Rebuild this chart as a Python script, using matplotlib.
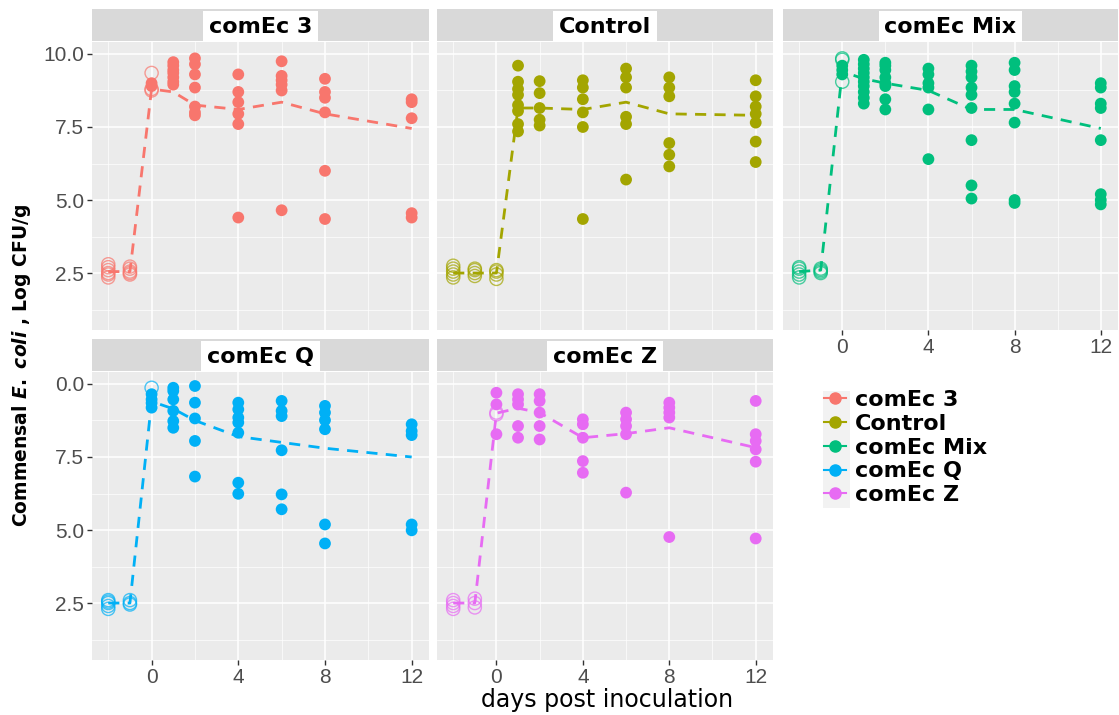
import matplotlib
matplotlib.use('Agg')
import matplotlib.pyplot as plt
from matplotlib.lines import Line2D
from matplotlib.patches import Rectangle

plt.rcParams['mathtext.fontset'] = 'custom'
plt.rcParams['mathtext.it'] = 'DejaVu Sans:italic:bold'
plt.rcParams['mathtext.rm'] = 'DejaVu Sans:bold'
plt.rcParams['mathtext.bf'] = 'DejaVu Sans:bold'

# data
days = [-2, -1, 0, 1, 2, 4, 6, 8, 12]
groups = ['comEc 3', 'Control', 'comEc Mix', 'comEc Q', 'comEc Z']
colors = ['#F8766D', '#A3A500', '#00BF7D', '#00B0F6', '#E76BF3']

c3_open = {-2: [2.35, 2.45, 2.5, 2.6, 2.7, 2.8], -1: [2.45, 2.5, 2.55, 2.65, 2.72], 0: [9.35, 8.8, 8.75]}
c3_filled = {0: [9.0, 8.9], 1: [9.72, 9.6, 9.45, 9.35, 9.2, 9.05, 8.95],
             2: [9.85, 9.65, 9.3, 8.85, 8.2, 8.0, 7.9], 4: [9.3, 8.7, 8.35, 7.95, 7.6, 4.4],
             6: [9.75, 9.25, 9.1, 8.95, 8.75, 4.65], 8: [9.15, 8.7, 8.5, 8.0, 6.0, 4.35],
             12: [8.45, 8.35, 7.8, 4.55, 4.4]}
c3_mean = [2.55, 2.55, 8.8, 8.7, 8.25, 8.1, 8.35, 7.95, 7.45]

ctrl_open = {-2: [2.35, 2.45, 2.55, 2.65, 2.75], -1: [2.4, 2.5, 2.6, 2.65], 0: [2.3, 2.45, 2.55, 2.6]}
ctrl_filled = {1: [9.6, 9.05, 8.8, 8.6, 8.25, 8.05, 7.6, 7.35], 2: [9.07, 8.66, 8.15, 7.75, 7.55],
               4: [9.1, 8.85, 8.45, 8.0, 7.5, 4.35], 6: [9.5, 9.2, 8.85, 7.85, 7.6, 5.7],
               8: [9.2, 8.85, 8.55, 6.95, 6.55, 6.15], 12: [9.1, 8.55, 8.2, 7.95, 7.65, 7.0, 6.3]}
ctrl_mean = [2.5, 2.5, 2.5, 8.15, 8.15, 8.1, 8.35, 7.95, 7.9]

mix_open = {-2: [2.35, 2.45, 2.55, 2.65, 2.7], -1: [2.5, 2.55, 2.6, 2.65], 0: [9.85, 9.8, 9.05]}
mix_filled = {0: [9.6, 9.45, 9.3], 1: [9.8, 9.65, 9.5, 9.35, 9.2, 9.05, 8.9, 8.7, 8.5, 8.3],
              2: [9.7, 9.6, 9.45, 9.2, 9.0, 8.9, 8.45, 8.1], 4: [9.5, 9.3, 9.0, 8.85, 8.1, 6.4],
              6: [9.6, 9.4, 9.2, 8.85, 8.6, 8.15, 7.05, 5.5, 5.05],
              8: [9.7, 9.45, 8.9, 8.7, 8.3, 7.65, 5.0, 4.9],
              12: [9.0, 8.85, 8.3, 8.15, 7.05, 5.2, 5.0, 4.85]}
mix_mean = [2.55, 2.6, 9.4, 9.15, 9.0, 8.75, 8.1, 8.1, 7.45]

q_open = {-2: [2.6, 2.5, 2.4, 2.3, 2.55], -1: [2.6, 2.5, 2.45], 0: [9.87]}
q_filled = {0: [9.65, 9.47, 9.35, 9.19], 1: [9.87, 9.76, 9.47, 9.08, 8.73, 8.5],
            2: [9.93, 9.36, 8.82, 8.05, 6.83], 4: [9.36, 9.13, 8.85, 8.68, 8.33, 6.62, 6.24],
            6: [9.42, 9.08, 8.9, 7.73, 6.22, 5.71], 8: [9.25, 9.02, 8.76, 8.45, 5.19, 4.54],
            12: [8.62, 8.39, 8.25, 5.19, 4.99]}
q_mean = [2.5, 2.5, 9.4, 9.15, 8.75, 8.2, 8.0, 7.8, 7.5]

z_open = {-2: [2.6, 2.5, 2.4, 2.3], -1: [2.65, 2.5, 2.35], 0: [9.02, 8.96]}
z_filled = {0: [9.7, 9.3, 8.28], 1: [9.65, 9.47, 9.3, 8.56, 8.16], 2: [9.65, 9.42, 9.02, 8.56, 8.1],
            4: [8.79, 8.62, 8.16, 7.36, 6.96], 6: [9.02, 8.79, 8.56, 8.28, 6.28],
            8: [9.36, 9.19, 9.02, 8.85, 4.76], 12: [9.42, 8.28, 8.05, 7.76, 7.34, 4.71]}
z_mean = [2.5, 2.5, 9.0, 9.17, 9.02, 8.16, 8.3, 8.5, 7.82]

opens = [c3_open, ctrl_open, mix_open, q_open, z_open]
filleds = [c3_filled, ctrl_filled, mix_filled, q_filled, z_filled]
means = [c3_mean, ctrl_mean, mix_mean, q_mean, z_mean]

y_ticks = [2.5, 5.0, 7.5, 10.0]
y_labels_top = ['2.5', '5.0', '7.5', '10.0']
y_labels_bottom = ['2.5', '5.0', '7.5', '0.0']
x_ticks = [0, 4, 8, 12]

W, H = 1119, 715
fig = plt.figure(figsize=(W / 100, H / 100), dpi=100)


def px_box(x0, y0, x1, y1):
    return [x0 / W, 1 - y1 / H, (x1 - x0) / W, (y1 - y0) / H]


# panel boxes in pixels: (left, top, right, bottom)
panel_px = [(92, 42, 429, 330), (437, 42, 773, 330), (783, 42, 1118, 330),
            (92, 372, 429, 660), (437, 372, 773, 660)]
show_y = [True, False, False, True, False]
show_x = [False, False, True, True, True]

for i, name in enumerate(groups):
    x0, y0, x1, y1 = panel_px[i]
    c = colors[i]
    ax = fig.add_axes(px_box(x0, y0, x1, y1))
    ax.set_facecolor('#EBEBEB')
    for s in ax.spines.values():
        s.set_visible(False)
    ax.set_xlim(-2.75, 12.8)
    ax.set_ylim(0.55, 10.41)
    ax.set_xticks(x_ticks)
    ax.set_xticks([-2, 2, 6, 10], minor=True)
    ax.set_yticks(y_ticks)
    ax.set_yticks([1.25, 3.75, 6.25, 8.75], minor=True)
    ax.set_axisbelow(True)
    ax.grid(which='major', color='white', lw=1.1)
    ax.grid(which='minor', color='white', lw=0.5)
    ax.tick_params(which='major', length=3.5, width=1, color='#333333',
                   labelcolor='#4D4D4D', labelsize=15, pad=2)
    ax.tick_params(which='minor', length=0)
    if show_y[i]:
        ax.set_yticklabels(y_labels_top if i < 3 else y_labels_bottom, family='Liberation Sans')
    else:
        ax.tick_params(axis='y', left=False, labelleft=False)
    if show_x[i]:
        ax.set_xticklabels([str(t) for t in x_ticks], family='Liberation Sans')
    else:
        ax.tick_params(axis='x', bottom=False, labelbottom=False)

    ax.plot(days, means[i], ls=(0, (4, 3)), lw=2.0, color=c, zorder=2)
    for d, vals in opens[i].items():
        ax.scatter([d] * len(vals), vals, s=90, facecolors='none', edgecolors=c,
                   linewidths=1.0, alpha=0.7, zorder=3)
    for d, vals in filleds[i].items():
        ax.scatter([d] * len(vals), vals, s=72, color=c, edgecolors='none', zorder=4)

    # facet strip
    sax = fig.add_axes(px_box(x0, y0 - 33, x1, y0 - 1))
    sax.set_facecolor('#D9D9D9')
    sax.set_xticks([])
    sax.set_yticks([])
    for s in sax.spines.values():
        s.set_visible(False)
    sax.text(0.5, 0.45, name, ha='center', va='center', fontsize=16, fontweight='bold',
             family='DejaVu Sans', color='black',
             bbox=dict(boxstyle='square,pad=0.25', fc='white', ec='none'))

# axis titles
fig.text(607 / W, 1 - 700 / H, 'days post inoculation', ha='center', va='center',
         fontsize=17, family='DejaVu Sans', color='black')
fig.text(22 / W, 1 - 365 / H, r'Commensal $\mathit{E.\ coli}$ , Log CFU/g', rotation=90,
         ha='center', va='center', fontsize=13.5, fontweight='bold', family='DejaVu Sans')

# legend
fig.add_artist(Rectangle((823 / W, 1 - 508 / H), 27 / W, 117 / H, transform=fig.transFigure,
                         fc='#F2F2F2', ec='none', zorder=0))
handles = [Line2D([0], [0], color=c, marker='o', markersize=8, lw=1.5) for c in colors]
fig.legend(handles, groups, loc='upper left', bbox_to_anchor=(824 / W, 1 - 390 / H),
           frameon=False, prop={'family': 'DejaVu Sans', 'weight': 'bold', 'size': 16},
           handlelength=1.0, handletextpad=0.4, labelspacing=0.17, borderpad=0,
           borderaxespad=0)

fig.savefig('out.png', dpi=100)
